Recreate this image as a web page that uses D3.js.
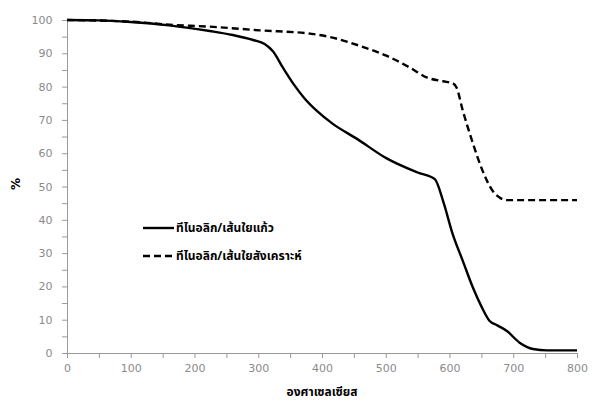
<!DOCTYPE html>
<html><head><meta charset="utf-8">
<script src="https://cdn.jsdelivr.net/npm/d3@7"></script>
<style>body{margin:0;background:#fff}svg{display:block}</style>
</head><body>
<svg id="c" width="597" height="407"></svg>
<script>
const seriesNames = ["ทีไนอลิก/เส้นใยแก้ว", "ทีไนอลิก/เส้นใยสังเคราะห์"];
const glassTemp = [0,50,100,160,224,260,292,310,323,339,356,372,392,417,455,500,550,577,590,605,621,637,650,663,675,690,710,731,753,800];
const glassVal  = [100,99.9,99.4,98.4,96.7,95.5,94.0,92.8,90.6,85.6,80.6,76.6,72.7,68.8,64.3,58.6,54.2,52.2,45.6,35.7,27.6,19.5,14,9.6,8.3,6.6,3.1,1.2,0.8,0.8];
const synTemp = [0,100,161,224,302,381,412,460,502,538,565,590,605,611,621,637,652,668,680,690,800];
const synVal  = [100,99.5,98.6,98.0,96.9,95.9,94.9,92.2,89.2,85.7,82.7,81.6,81.0,79.7,72.7,62.8,54.7,48.6,46.5,45.9,45.9];
const xTicks = [0,100,200,300,400,500,600,700,800];
const yTicks = [0,10,20,30,40,50,60,70,80,90,100];
const xTitle = "องศาเซลเซียส";
const yTitle = "%";

const svg = d3.select("#c");
const x = d3.scaleLinear().domain([0,800]).range([67,577]);
const y = d3.scaleLinear().domain([0,100]).range([353,20]);
const gray = "#9a9a9a", tgray = "#8a8a8a";
const tf = "'DejaVu Sans', sans-serif";

// x axis
const xa = svg.append("g").attr("transform", `translate(0,${y(0)})`)
  .call(d3.axisBottom(x).tickValues(d3.range(0,801,50)).tickSize(5).tickFormat(d => xTicks.includes(d) ? d : ""));
xa.select(".domain").attr("stroke", gray);
xa.selectAll(".tick line").attr("stroke", gray);
xa.selectAll(".tick text").attr("fill", tgray).attr("font-family", tf).attr("font-size", 11).attr("dy", "1em");

// y axis
const ya = svg.append("g").attr("transform", `translate(${x(0)},0)`)
  .call(d3.axisLeft(y).tickValues(d3.range(0,101,5)).tickSize(5).tickFormat(d => yTicks.includes(d) ? d : ""));
ya.select(".domain").attr("stroke", gray);
ya.selectAll(".tick line").attr("stroke", gray);
ya.selectAll(".tick text").attr("fill", tgray).attr("font-family", tf).attr("font-size", 11).attr("dx", "-0.6em");

const line = d3.line().x(d => x(d[0])).y(d => y(d[1])).curve(d3.curveMonotoneX);
const glass = glassTemp.map((t,i) => [t, glassVal[i]]);
const syn = synTemp.map((t,i) => [t, synVal[i]]);

svg.append("path").attr("d", line(syn)).attr("fill","none").attr("stroke","#000")
  .attr("stroke-width",2.4).attr("stroke-dasharray","7,4");
svg.append("path").attr("d", line(glass)).attr("fill","none").attr("stroke","#000")
  .attr("stroke-width",2.4);

// titles
const thf = "'Noto Sans Thai','Tahoma','DejaVu Sans',sans-serif";
svg.append("text").attr("x", 322).attr("y", 396).attr("text-anchor","middle")
  .attr("font-family", thf).attr("font-size", 12).attr("font-weight","bold").attr("fill","#000").text(xTitle);
svg.append("text").attr("transform","translate(20,184) rotate(-90)").attr("text-anchor","middle")
  .attr("font-family", tf).attr("font-size", 12).attr("font-weight","bold").attr("fill","#000").text(yTitle);

// legend
const leg = [{y:228, dash:null, name:seriesNames[0]},{y:256, dash:"7,4", name:seriesNames[1]}];
leg.forEach(l => {
  svg.append("line").attr("x1",143).attr("x2",174).attr("y1",l.y).attr("y2",l.y)
    .attr("stroke","#000").attr("stroke-width",2.4).attr("stroke-dasharray", l.dash);
  svg.append("text").attr("x",176).attr("y",l.y+4).attr("font-family",thf).attr("font-size",12)
    .attr("font-weight","bold").attr("fill","#000").text(l.name);
});
</script>
</body></html>
